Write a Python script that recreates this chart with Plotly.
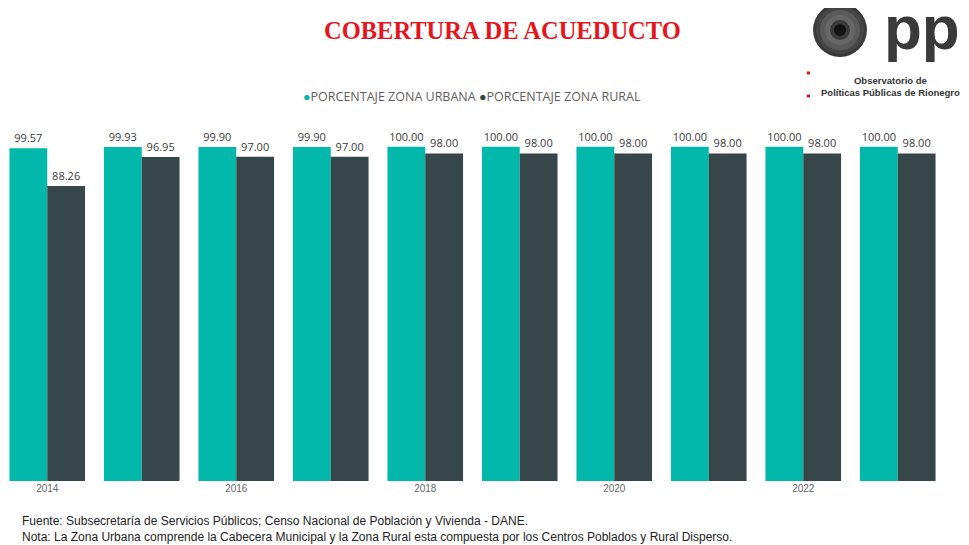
import plotly.graph_objects as go

years = [2014, 2015, 2016, 2017, 2018, 2019, 2020, 2021, 2022, 2023]
urbana = [99.57, 99.93, 99.90, 99.90, 100.00, 100.00, 100.00, 100.00, 100.00, 100.00]
rural = [88.26, 96.95, 97.00, 97.00, 98.00, 98.00, 98.00, 98.00, 98.00, 98.00]
tick_years = [2014, 2016, 2018, 2020, 2022]
serie_urb = "PORCENTAJE ZONA URBANA"
serie_rur = "PORCENTAJE ZONA RURAL"

C_URB = "#01B8AA"
C_RUR = "#374649"

# the page body has an 8px margin; figure is sized to the visible area
OFF = 8
W, H = 969 - OFF, 545 - OFF
L, R, T, B = 0, 24, 122, 64
PW, PH = W - L - R, H - T - B


def px(xr):
    return (xr - OFF - L) / PW


def py(yr):
    return (H - B - (yr - OFF)) / PH


fig = go.Figure()
for name, vals, col in [(serie_urb, urbana, C_URB), (serie_rur, rural, C_RUR)]:
    fig.add_trace(go.Bar(x=years, y=vals, name=name, marker_color=col, marker_line_width=0,
                         text=[f"{v:.2f}" for v in vals], textposition="outside", cliponaxis=False,
                         textfont=dict(size=11, color="#3a3a3a", family="Open Sans"), showlegend=False))

x0 = 2013.5 + OFF / 94.5
fig.update_layout(
    width=W, height=H,
    margin=dict(l=L, r=R, t=T, b=B),
    paper_bgcolor="white", plot_bgcolor="white",
    barmode="group", bargap=0.2, bargroupgap=0,
    showlegend=False,
    xaxis=dict(range=[x0, 2023.5], tickmode="array", tickvals=tick_years,
               ticktext=[str(t) for t in tick_years], showgrid=False, zeroline=False, showline=False,
               tickfont=dict(size=10, color="#666666", family="Liberation Sans Narrow, Arial"), ticks=""),
    yaxis=dict(range=[0, 105], visible=False, showgrid=False),
    font=dict(family="Open Sans"),
)

# Title
fig.add_annotation(text="<b>COBERTURA DE ACUEDUCTO</b>", xref="paper", yref="paper", x=px(502), y=py(31),
                   xanchor="center", yanchor="middle", showarrow=False,
                   font=dict(family="Liberation Serif, Times New Roman", size=24.5, color="#E8141C"))

# Legend (as text with coloured dots)
fig.add_annotation(
    text=f"<span style='color:{C_URB}'>●</span>{serie_urb} <span style='color:{C_RUR}'>●</span>{serie_rur}",
    xref="paper", yref="paper", x=px(472), y=py(96), xanchor="center", yanchor="middle", showarrow=False,
    font=dict(family="Open Sans", size=12.5, color="#605E5C"))

# Logo
shapes = []
cx, cy = 840, 30
for r, col in [(27, "#3a3a3a"), (24, "#454545"), (20, "#5a5a5a"), (15, "#666666"), (10, "#3a3a3a"), (6, "#151515")]:
    shapes.append(dict(type="circle", xref="paper", yref="paper",
                       x0=px(cx - r), x1=px(cx + r), y0=py(cy + r), y1=py(cy - r),
                       fillcolor=col, line=dict(width=0), layer="above"))
for yy in [73, 96]:
    shapes.append(dict(type="rect", xref="paper", yref="paper", x0=px(807), x1=px(810), y0=py(yy + 1.5),
                       y1=py(yy - 1.5), fillcolor="#E8141C", line=dict(width=0), layer="above"))
fig.update_layout(shapes=shapes)
fig.add_annotation(text="<b>pp</b>", xref="paper", yref="paper", x=px(962), y=py(28),
                   xanchor="right", yanchor="middle", showarrow=False,
                   font=dict(family="Liberation Sans, Arial", size=62, color="#3a3a3a"))
fig.add_annotation(text="<b>Observatorio de<br>Políticas Públicas de Rionegro</b>", xref="paper", yref="paper",
                   x=px(890), y=py(87), xanchor="center", yanchor="middle", showarrow=False,
                   font=dict(family="Liberation Sans, Arial", size=9.5, color="#333333"))

# Footer
fig.add_annotation(text="Fuente: Subsecretaría de Servicios Públicos; Censo Nacional de Población y Vivienda - DANE.",
                   xref="paper", yref="paper", x=px(20), y=py(521), xanchor="left", yanchor="middle",
                   showarrow=False, font=dict(family="Liberation Sans Narrow, Arial", size=12, color="#222222"))
fig.add_annotation(text="Nota: La Zona Urbana comprende la Cabecera Municipal y la Zona Rural esta compuesta por los Centros Poblados y Rural Disperso.",
                   xref="paper", yref="paper", x=px(20), y=py(537), xanchor="left", yanchor="middle",
                   showarrow=False, font=dict(family="Liberation Sans Narrow, Arial", size=12, color="#222222"))

fig.write_html("out.html")
